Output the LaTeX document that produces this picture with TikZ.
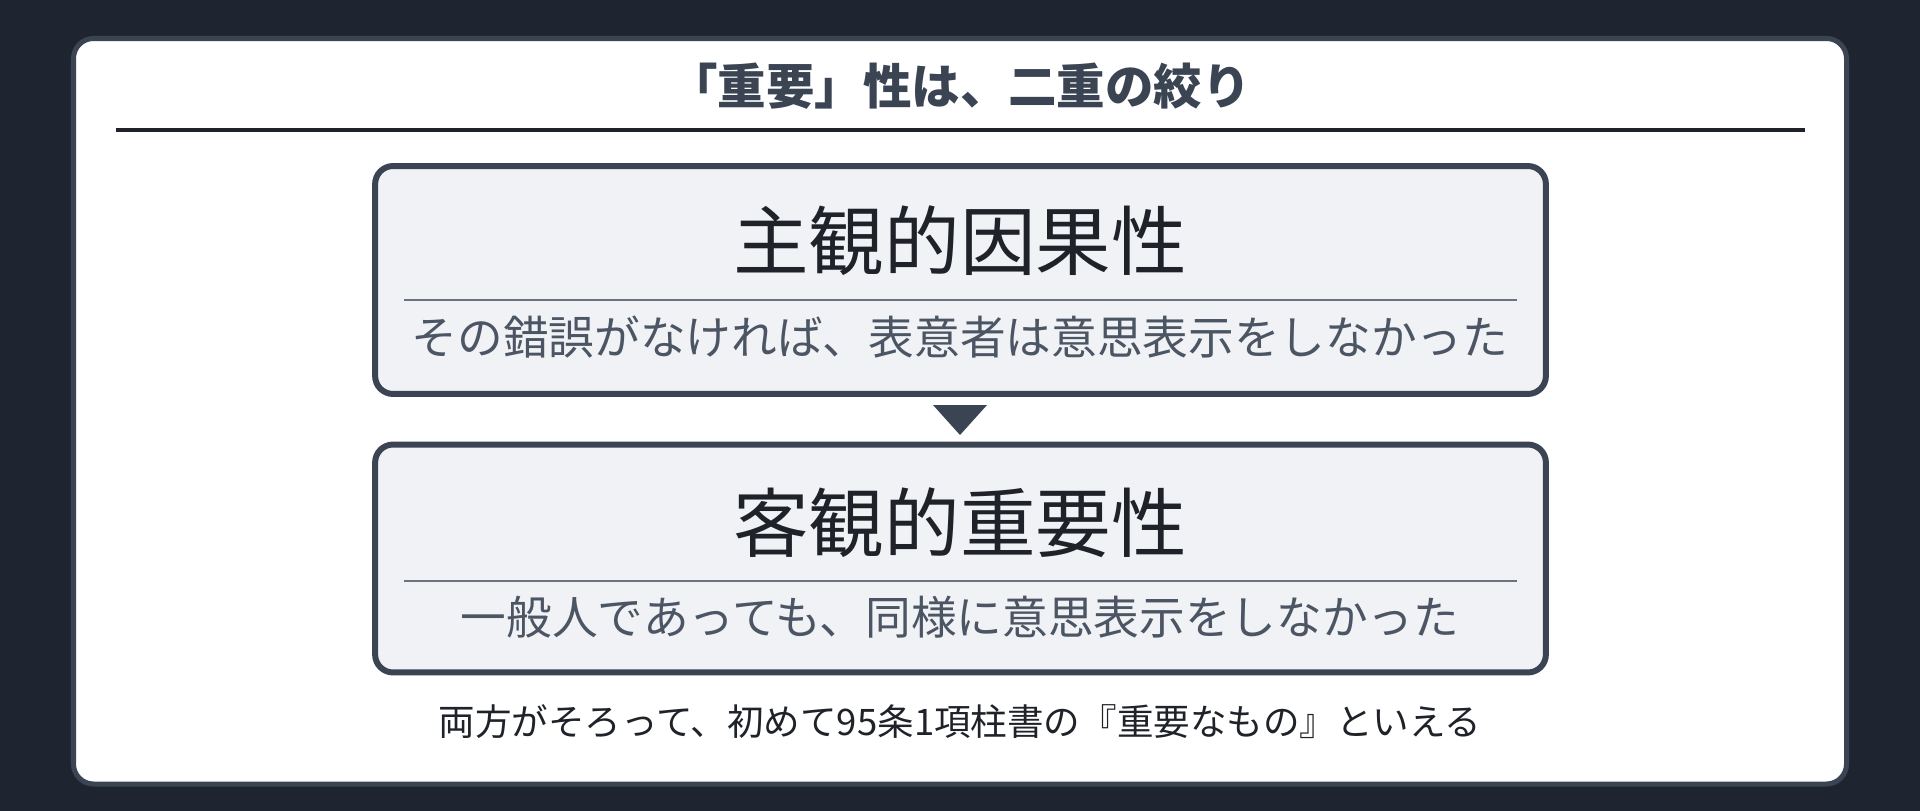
\documentclass[tikz,border=0pt]{standalone}
\usepackage{fontspec}
\setmainfont{Noto Sans CJK JP}
\usepackage{tikz}

\definecolor{nightbg}{HTML}{1F2530}
\definecolor{slate}{HTML}{3A4453}
\definecolor{ink}{HTML}{1F2329}
\definecolor{mist}{HTML}{F0F2F5}
\definecolor{rulegray}{HTML}{6B7280}
\definecolor{glossgray}{HTML}{4B5563}

\begin{document}
\begin{tikzpicture}[
  x=0.02cm, y=-0.02cm,
  card/.style={draw=slate, fill=white, line width=2.85pt, rounded corners=0.4cm},
  panel/.style={draw=slate, fill=mist, line width=3.4pt, rounded corners=0.36cm,
    minimum width=23.42cm, minimum height=4.56cm},
  heading/.style={font=\bfseries\fontsize{27.6pt}{31pt}\selectfont, text=slate},
  headline/.style={font=\fontsize{43pt}{48pt}\selectfont, text=ink},
  gloss/.style={font=\fontsize{26pt}{30pt}\selectfont, text=glossgray},
  divider/.style={draw=rulegray, line width=1.3pt}
]
\useasboundingbox (0,0) rectangle (1920,811);
\fill[nightbg] (0,0) rectangle (1920,811);
\draw[card] (73.5,38.5) rectangle (1846.5,784);

\node[heading] (title) at (960,86) {「重要」性は、二重の絞り};
\draw[draw=ink, line width=1.9pt] (116,130) -- (1805,130);

% subjective step
\node[panel] (subj) at (960.5,280) {};
\node[headline] (subjname) at (960,241) {主観的因果性};
\draw[divider] (404,300) -- (1517,300);
\node[gloss] (subjtext) at (960,337) {その錯誤がなければ、表意者は意思表示をしなかった};

\fill[slate] (933,405) -- (987,405) -- (960,435) -- cycle;

% objective step
\node[panel] (obj) at (960.5,558.5) {};
\node[headline] (objname) at (960,523) {客観的重要性};
\draw[divider] (404,581) -- (1517,581);
\node[gloss] (objtext) at (960,617) {一般人であっても、同様に意思表示をしなかった};

\node[font=\fontsize{20.8pt}{25pt}\selectfont, text=ink] (result) at (960,722)
  {両方がそろって、初めて95条1項柱書の『重要なもの』といえる};
\end{tikzpicture}
\end{document}
